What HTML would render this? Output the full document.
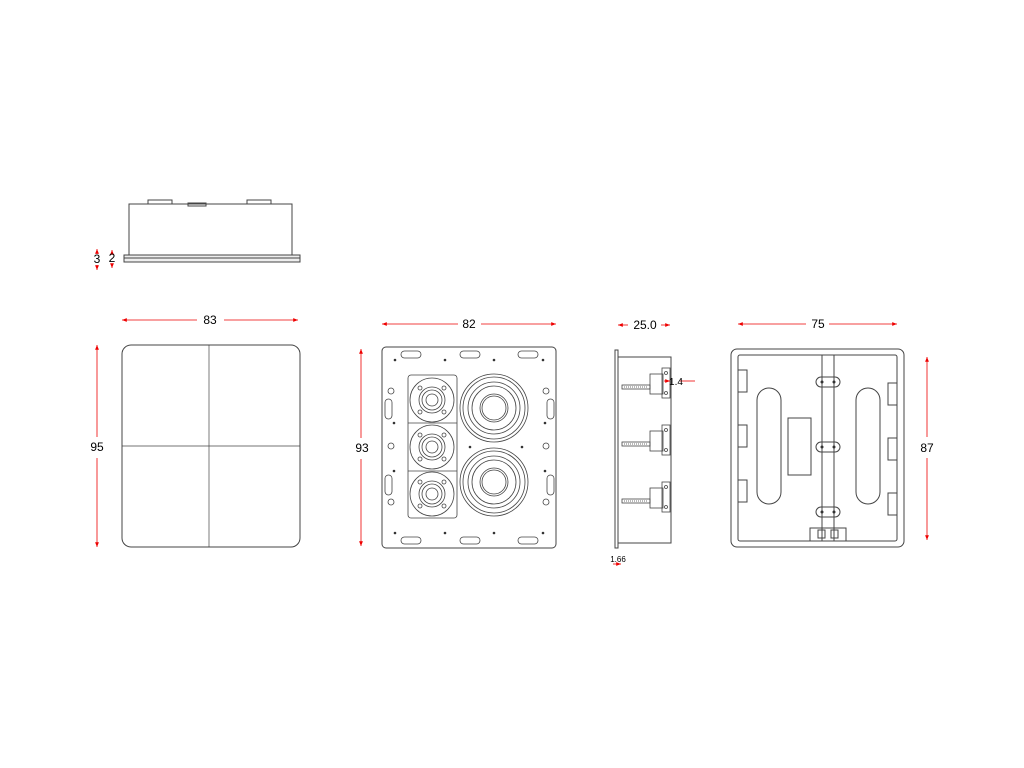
<!DOCTYPE html>
<html><head><style>body{margin:0;background:#fff}svg{display:block}</style></head><body>
<svg width="1024" height="768" viewBox="0 0 1024 768" xmlns="http://www.w3.org/2000/svg" font-family="Liberation Sans, sans-serif">
<defs>
<marker id="a" viewBox="0 0 10 10" refX="10" refY="5" markerWidth="6" markerHeight="6" orient="auto-start-reverse"><path d="M0,1L10,5L0,9z" fill="#e00"/></marker>
</defs>
<g fill="none" stroke="#444" stroke-width="1">
<!-- top view -->
<rect x="129" y="204" width="163" height="51"/>
<rect x="148" y="200" width="24" height="4"/><rect x="247" y="200" width="24" height="4"/><rect x="188" y="203" width="18" height="3"/>
<path d="M124,255H300V262H124Z" fill="#eee"/>
<line x1="124" y1="258" x2="300" y2="258"/>
<!-- grille -->
<rect x="122" y="345" width="178" height="202" rx="9"/>
<line x1="209" y1="345" x2="209" y2="547" stroke-width="0.7"/>
<line x1="122" y1="446" x2="300" y2="446" stroke-width="0.7"/>
<!-- front speaker -->
<rect x="382" y="347" width="174" height="201" rx="4"/>
<g stroke-width="0.8">
<rect x="401" y="351" width="20" height="7" rx="3.5"/><rect x="460" y="351" width="20" height="7" rx="3.5"/><rect x="518" y="351" width="20" height="7" rx="3.5"/>
<rect x="401" y="537" width="20" height="7" rx="3.5"/><rect x="460" y="537" width="20" height="7" rx="3.5"/><rect x="518" y="537" width="20" height="7" rx="3.5"/>
<rect x="385" y="399" width="7" height="20" rx="3.5"/><rect x="385" y="475" width="7" height="20" rx="3.5"/>
<rect x="547" y="399" width="7" height="20" rx="3.5"/><rect x="547" y="475" width="7" height="20" rx="3.5"/>
<rect x="408" y="375" width="49" height="143" rx="3"/>
<line x1="408" y1="423" x2="457" y2="423"/><line x1="408" y1="471" x2="457" y2="471"/>
<g id="tw"><circle cx="432" cy="400" r="22"/><circle cx="432" cy="400" r="13"/><circle cx="432" cy="400" r="10"/><circle cx="432" cy="400" r="6"/>
<circle cx="420" cy="388" r="2"/><circle cx="444" cy="388" r="2"/><circle cx="420" cy="412" r="2"/><circle cx="444" cy="412" r="2"/></g>
<use href="#tw" y="47"/><use href="#tw" y="94"/>
<g id="wf"><circle cx="494" cy="408" r="34"/><circle cx="494" cy="408" r="31"/><circle cx="494" cy="408" r="26"/><circle cx="494" cy="408" r="22"/><circle cx="494" cy="408" r="14"/><circle cx="494" cy="408" r="12"/></g>
<use href="#wf" y="74"/>
<circle cx="391" cy="391" r="3"/><circle cx="391" cy="446" r="3"/><circle cx="391" cy="502" r="3"/>
<circle cx="546" cy="391" r="3"/><circle cx="546" cy="446" r="3"/><circle cx="546" cy="502" r="3"/>
</g>
<g fill="#333" stroke="none">
<circle cx="395" cy="360" r="1.3"/><circle cx="445" cy="360" r="1.3"/><circle cx="494" cy="360" r="1.3"/><circle cx="543" cy="360" r="1.3"/>
<circle cx="395" cy="533" r="1.3"/><circle cx="445" cy="533" r="1.3"/><circle cx="494" cy="533" r="1.3"/><circle cx="543" cy="533" r="1.3"/>
<circle cx="470" cy="447" r="1.3"/><circle cx="522" cy="447" r="1.3"/><circle cx="394" cy="423" r="1.3"/><circle cx="394" cy="471" r="1.3"/><circle cx="545" cy="423" r="1.3"/><circle cx="545" cy="471" r="1.3"/>
</g>
<!-- side view -->
<rect x="615" y="350" width="3" height="198"/>
<rect x="618" y="357" width="53" height="186"/>
<g stroke-width="0.8">
<g id="br"><rect x="622" y="385" width="28" height="4"/><line x1="624" y1="387" x2="648" y2="387" stroke-dasharray="1,1"/>
<rect x="650" y="374" width="13" height="20"/><rect x="662" y="368" width="8" height="30"/><circle cx="666" cy="373" r="1.5"/><circle cx="666" cy="393" r="1.5"/></g>
<use href="#br" y="57"/><use href="#br" y="114"/>
</g>
<!-- back view -->
<rect x="731" y="349" width="173" height="198" rx="6"/>
<rect x="738" y="355" width="159" height="186" rx="2"/>
<line x1="822" y1="355" x2="822" y2="541"/><line x1="834" y1="355" x2="834" y2="541"/>
<rect x="757" y="388" width="24" height="116" rx="12"/>
<rect x="856" y="388" width="24" height="116" rx="12"/>
<rect x="788" y="418" width="23" height="57"/>
<rect x="816" y="377" width="24" height="10" rx="5"/><rect x="816" y="442" width="24" height="10" rx="5"/><rect x="816" y="507" width="24" height="10" rx="5"/>
<rect x="810" y="528" width="36" height="13"/><rect x="818" y="530" width="7" height="8"/><rect x="831" y="530" width="7" height="8"/>
<rect x="738" y="370" width="9" height="22"/><rect x="738" y="425" width="9" height="22"/><rect x="738" y="480" width="9" height="22"/>
<rect x="888" y="383" width="9" height="22"/><rect x="888" y="438" width="9" height="22"/><rect x="888" y="493" width="9" height="22"/>
</g>
<g fill="#333"><circle cx="822" cy="382" r="1.5"/><circle cx="834" cy="382" r="1.5"/><circle cx="822" cy="447" r="1.5"/><circle cx="834" cy="447" r="1.5"/><circle cx="822" cy="512" r="1.5"/><circle cx="834" cy="512" r="1.5"/></g>
<!-- dimensions -->
<g stroke="#e00" stroke-width="0.8">
<line x1="122" y1="320" x2="197" y2="320" marker-start="url(#a)"/><line x1="224" y1="320" x2="298" y2="320" marker-end="url(#a)"/>
<line x1="97" y1="345" x2="97" y2="437" marker-start="url(#a)"/><line x1="97" y1="458" x2="97" y2="547" marker-end="url(#a)"/>
<line x1="382" y1="324" x2="458" y2="324" marker-start="url(#a)"/><line x1="481" y1="324" x2="556" y2="324" marker-end="url(#a)"/>
<line x1="361" y1="349" x2="361" y2="438" marker-start="url(#a)"/><line x1="361" y1="459" x2="361" y2="546" marker-end="url(#a)"/>
<line x1="618" y1="325" x2="628" y2="325" marker-start="url(#a)"/><line x1="661" y1="325" x2="670" y2="325" marker-end="url(#a)"/>
<line x1="738" y1="324" x2="806" y2="324" marker-start="url(#a)"/><line x1="829" y1="324" x2="897" y2="324" marker-end="url(#a)"/>
<line x1="927" y1="357" x2="927" y2="437" marker-start="url(#a)"/><line x1="927" y1="458" x2="927" y2="540" marker-end="url(#a)"/>
<line x1="97" y1="249" x2="97" y2="254" marker-start="url(#a)"/><line x1="97" y1="265" x2="97" y2="270" marker-end="url(#a)"/>
<line x1="112" y1="250" x2="112" y2="254" marker-start="url(#a)"/><line x1="112" y1="264" x2="112" y2="268" marker-end="url(#a)"/>
<line x1="664" y1="381" x2="670" y2="381" marker-end="url(#a)"/><line x1="695" y1="381" x2="680" y2="381"/>
<line x1="613" y1="564" x2="621" y2="564" marker-end="url(#a)"/>
</g>
<g fill="#000" font-size="12" text-anchor="middle">
<text x="210" y="324">83</text><text x="97" y="451">95</text>
<text x="469" y="328">82</text><text x="362" y="452">93</text>
<text x="645" y="329">25.0</text><text x="818" y="328">75</text><text x="927" y="452">87</text>
<text x="97" y="263">3</text><text x="112" y="262">2</text>
<text x="676" y="385" font-size="10">1.4</text>
<text x="618" y="562" font-size="8">1.66</text>
</g>
</svg>
</body></html>
